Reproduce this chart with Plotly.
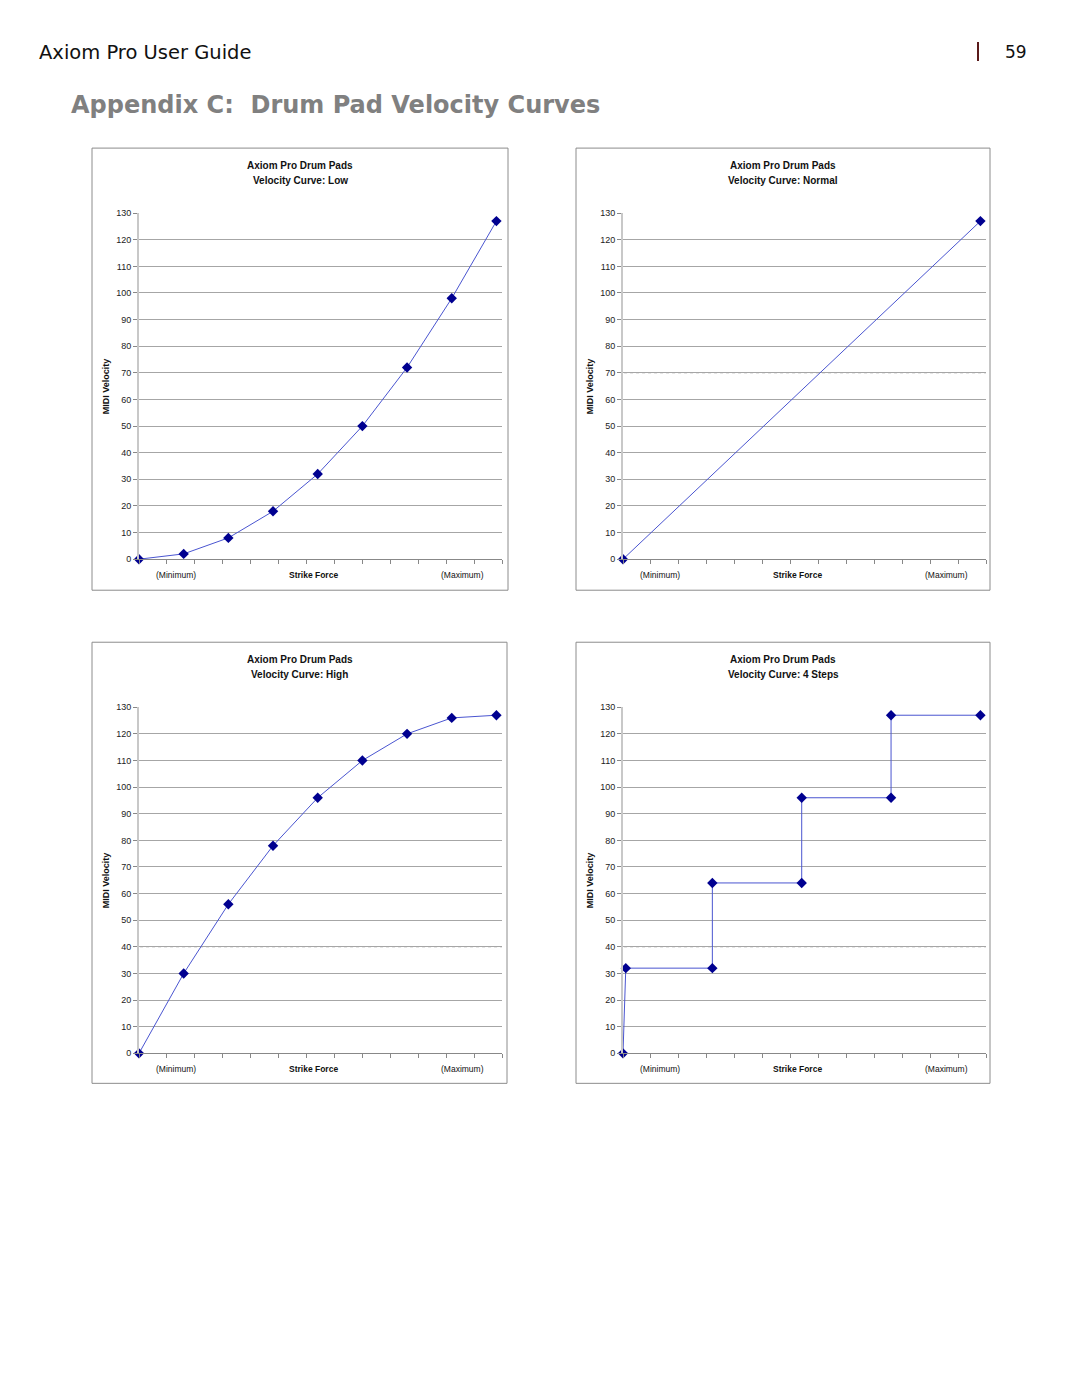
import plotly.graph_objects as go

# the page body keeps its default 8px margin, so the figure sits at (8, 8);
# the capture also comes out squeezed slightly in height, compensated in py()
OFF = 8
W, H = 1064, 1381
Y_SHIFT, Y_SCALE = 5, 0.9925

# data
strike = [0, 16, 32, 48, 64, 80, 96, 112, 128]
vel_low = [0, 2, 8, 18, 32, 50, 72, 98, 127]
vel_high = [0, 30, 56, 78, 96, 110, 120, 126, 127]
normal_x = [0, 128]
normal_y = [0, 127]
steps_x = [0, 1, 32, 32, 64, 64, 96, 96, 128]
steps_y = [0, 32, 32, 64, 64, 96, 96, 127, 127]

curve_names = ["Low", "Normal", "High", "4 Steps"]
y_ticks = list(range(0, 131, 10))

# (panel box px, plot area px) for each chart, in page pixels
panels = [
    ((92, 148, 508, 590), (139, 213, 502, 559)),
    ((576, 148, 990, 590), (623, 213, 986, 559)),
    ((92, 642, 507, 1083), (139, 707, 502, 1053)),
    ((576, 642, 990, 1083), (623, 707, 986, 1053)),
]
series = [(strike, vel_low), (normal_x, normal_y), (strike, vel_high), (steps_x, steps_y)]
# faint dotted gridline artefacts in the scan
dotted = [None, 70, 40, 40]

LINE = "#4a55d0"
MARK = "#000090"
GRID = "#a6a6a6"
FONT = "Arial, Liberation Sans, sans-serif"


def px(x):
    return (x - OFF) / W


def py(y):
    return 1 - ((y - Y_SHIFT) / Y_SCALE - OFF) / H


def label(text, x, y, size, color="#111", family=FONT, xanchor="center", **kw):
    return dict(text=text, x=px(x), y=py(y), xref="paper", yref="paper",
                xanchor=xanchor, yanchor="middle", showarrow=False,
                font=dict(family=family, size=size, color=color), **kw)


fig = go.Figure()
shapes, annos = [], []
layout_axes = {}

for i, ((bx0, by0, bx1, by1), (ax0, ay0, ax1, ay1)) in enumerate(panels):
    n = "" if i == 0 else str(i + 1)
    xs, ys = series[i]
    fig.add_trace(go.Scatter(
        x=xs, y=ys, mode="lines+markers", xaxis="x" + n, yaxis="y" + n,
        line=dict(color=LINE, width=1),
        marker=dict(symbol="diamond", size=8, color=MARK),
        cliponaxis=False, showlegend=False, hoverinfo="skip"))

    layout_axes["xaxis" + n] = dict(
        domain=[px(ax0), px(ax1)], anchor="y" + n, range=[0, 130],
        tickvals=y_ticks, ticks="outside", ticklen=4, tickcolor="#888",
        showticklabels=False, showgrid=False, zeroline=False,
        showline=True, linecolor="#888", linewidth=1, fixedrange=True)
    layout_axes["yaxis" + n] = dict(
        domain=[py(ay1), py(ay0)], anchor="x" + n, range=[0, 130],
        tickvals=y_ticks, ticks="outside", ticklen=4, tickcolor="#888",
        tickfont=dict(family=FONT, size=9, color="#222"),
        showgrid=True, gridcolor=GRID, gridwidth=1, zeroline=False,
        showline=True, linecolor="#c8c8c8", linewidth=2, fixedrange=True)

    # panel frame
    shapes.append(dict(type="rect", xref="paper", yref="paper",
                       x0=px(bx0), x1=px(bx1), y0=py(by1), y1=py(by0),
                       line=dict(color="#8c8c8c", width=1), layer="below"))
    if dotted[i] is not None:
        shapes.append(dict(type="line", xref="x" + n + " domain", yref="y" + n,
                           x0=0.003, x1=1, y0=dotted[i], y1=dotted[i],
                           line=dict(color="white", width=1.5), layer="below"))
        shapes.append(dict(type="line", xref="x" + n + " domain", yref="y" + n,
                           x0=0.003, x1=1, y0=dotted[i], y1=dotted[i],
                           line=dict(color="#b0b0b0", width=1, dash="dot"), layer="below"))

    mid = (bx0 + bx1) / 2
    annos.append(label("<b>Axiom Pro Drum Pads</b>", mid, by0 + 17, 10))
    annos.append(label("<b>Velocity Curve: %s</b>" % curve_names[i], mid, by0 + 32, 10))
    annos.append(label("<b>MIDI Velocity</b>", ax0 - 33, (ay0 + ay1) / 2, 9, textangle=-90))
    annos.append(label("(Minimum)", ax0 + 37, ay1 + 16, 8.5))
    annos.append(label("<b>Strike Force</b>", ax0 + 174, ay1 + 16, 8.5))
    annos.append(label("(Maximum)", ax0 + 323, ay1 + 16, 8.5))

# page header
annos.append(label("Axiom Pro User Guide", 37, 52, 19.5, family="DejaVu Sans", xanchor="left"))
annos.append(label("59", 1003, 52, 17, family="DejaVu Sans", xanchor="left"))
shapes.append(dict(type="line", xref="paper", yref="paper",
                   x0=px(978), x1=px(978), y0=py(42), y1=py(61),
                   line=dict(color="#5a1a1a", width=2)))
annos.append(label("<b>Appendix C:  Drum Pad Velocity Curves</b>", 69, 105, 24,
                   color="#808080", family="DejaVu Sans", xanchor="left"))

fig.update_layout(
    width=W, height=H, margin=dict(l=0, r=0, t=0, b=0),
    paper_bgcolor="white", plot_bgcolor="white",
    shapes=shapes, annotations=annos, **layout_axes)

fig.write_html("out.html")
